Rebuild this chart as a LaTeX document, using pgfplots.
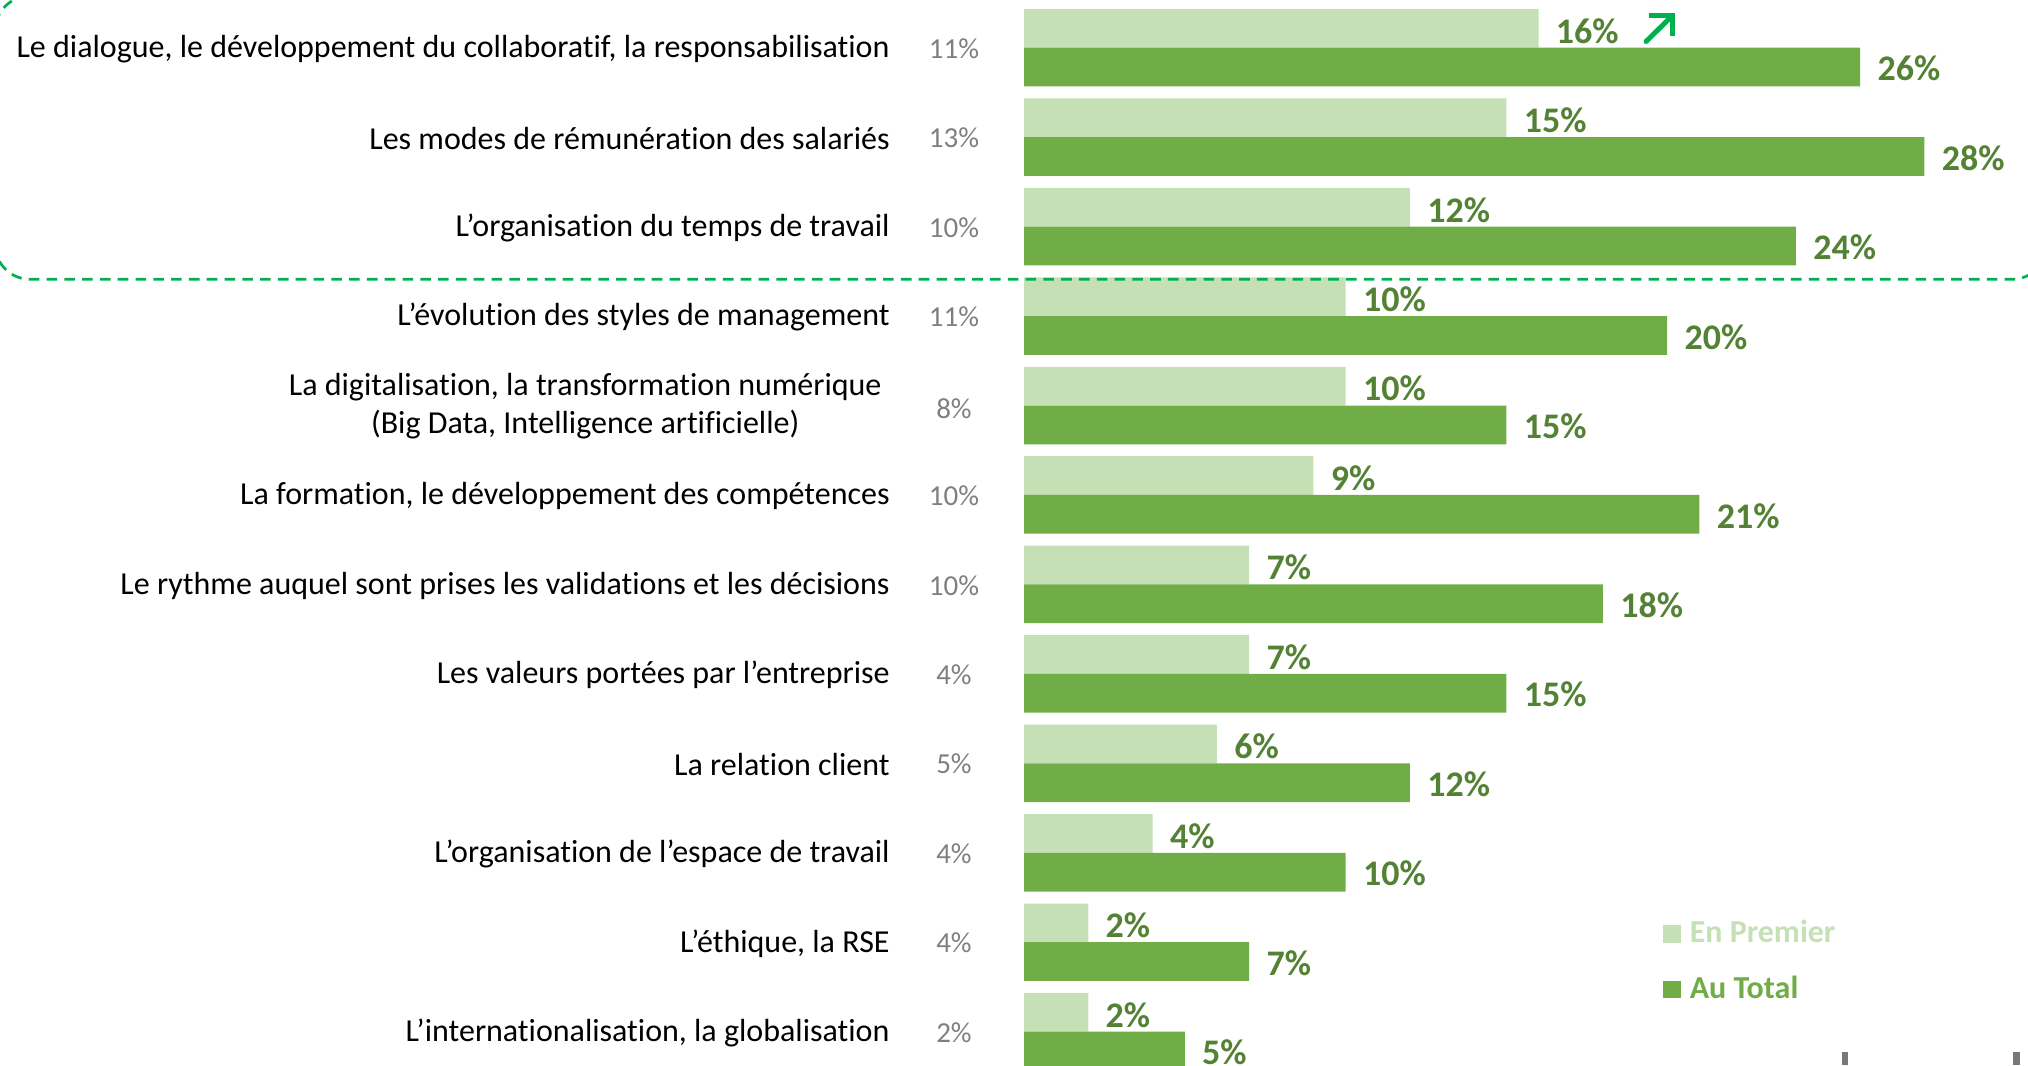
\documentclass[border=0pt]{standalone}
\usepackage{pgfplots}
\pgfplotsset{compat=1.18}
\usepackage{pgfplotstable}
\usepackage{fontspec}
\setmainfont{Carlito}[Ligatures=NoCommon]
\definecolor{lightg}{HTML}{C5E0B4}
\definecolor{darkg}{HTML}{70AD47}
\definecolor{labg}{HTML}{548235}
\definecolor{greyv}{HTML}{7F7F7F}
\definecolor{dashg}{HTML}{00B050}
\definecolor{tickg}{HTML}{77777C}

\pgfplotstableread{
idx premier total
0 16 26
1 15 28
2 12 24
3 10 20
4 10 15
5 9 21
6 7 18
7 7 15
8 6 12
9 4 10
10 2 7
11 2 5
}\datatable

\begin{document}
\begin{tikzpicture}
\useasboundingbox (0pt,0pt) rectangle (1014pt,532.5pt);
\clip (0pt,0pt) rectangle (1014pt,532.5pt);
\begin{axis}[
  at={(512pt,531pt)}, anchor=north west,
  x=16.08pt, y=44.725pt, y dir=reverse,
  xmin=0, xmax=31, ymin=-0.5, ymax=11.5,
  /pgf/number format/assume math mode=true,
  axis line style={draw=none},
  major tick length=0pt,
  tick style={draw=none},
  xtick=\empty,
  ytick={0,...,11},
  yticklabels={
    {Le dialogue, le développement du collaboratif, la responsabilisation},
    {Les modes de rémunération des salariés},
    {L’organisation du temps de travail},
    {L’évolution des styles de management},
    {\begin{tabular}{@{}c@{\hspace{4pt}}}La digitalisation, la transformation numérique\\(Big Data, Intelligence artificielle)\end{tabular}},
    {La formation, le développement des compétences},
    {Le rythme auquel sont prises les validations et les décisions},
    {Les valeurs portées par l’entreprise},
    {La relation client},
    {L’organisation de l’espace de travail},
    {L’éthique, la RSE},
    {L’internationalisation, la globalisation}
  },
  y tick label style={font=\fontsize{16}{19.4}\selectfont, anchor=east, inner sep=0pt, xshift=-67pt, yshift=-0.6pt, text=black},
  clip=false,
  legend style={at={(axis cs:19.87,9.807)}, anchor=north west, draw=none, fill=none,
    inner sep=0pt, outer sep=0pt, row sep=18.9pt, column sep=4.5pt,
    font=\fontsize{16}{19}\selectfont\bfseries,
    nodes={inner sep=0pt, text height=8.6pt, text depth=0pt}, cells={anchor=west}},
  legend image code/.code={\fill[#1] (0pt,-4.45pt) rectangle (8.9pt,4.45pt);},
]
\addplot[xbar, bar width=0.433, bar shift=-0.2165, fill=lightg, draw=none,
  point meta=x, nodes near coords={\pgfmathprintnumber{\pgfplotspointmeta}\%},
  every node near coord/.append style={font=\fontsize{18}{20}\selectfont\bfseries, text=labg, anchor=west, inner sep=0pt, xshift=8.5pt, yshift=8.4pt}]
  table[x=premier, y=idx] {\datatable};
\addlegendentry{\textcolor{lightg}{En Premier}}
\addplot[xbar, bar width=0.433, bar shift=0.2165, fill=darkg, draw=none,
  point meta=x, nodes near coords={\pgfmathprintnumber{\pgfplotspointmeta}\%},
  every node near coord/.append style={font=\fontsize{18}{20}\selectfont\bfseries, text=labg, anchor=west, inner sep=0pt, xshift=8.5pt, yshift=-10.4pt}]
  table[x=total, y=idx] {\datatable};
\addlegendentry{\textcolor{darkg}{Au Total}}
\addplot[draw=none, mark=none, forget plot, point meta=explicit,
  nodes near coords={\pgfmathprintnumber{\pgfplotspointmeta}\%},
  every node near coord/.append style={font=\fontsize{14.5}{17}\selectfont, text=greyv, anchor=center, inner sep=0pt}]
  coordinates {(-2.177,0.01)[11] (-2.177,1.01)[13] (-2.177,2.01)[10] (-2.177,3.01)[11] (-2.177,4.04)[8] (-2.177,5.01)[10]
    (-2.177,6.01)[10] (-2.177,7.01)[4] (-2.177,8.01)[5] (-2.177,9.01)[4] (-2.177,10.01)[4] (-2.177,11.01)[2]};
\end{axis}
\begin{scope}[x=0.5pt, y=-0.5pt, yshift=532.5pt]
\draw[dashg, line width=1.35pt, dash pattern=on 5.3pt off 3.6pt, rounded corners=17.5pt] (-5,-4) rectangle (2047,279.3);
\draw[dashg, line width=2.5pt, line cap=round] (1646,41.5) -- (1670,18);
\draw[dashg, line width=2.5pt, line join=miter] (1649,15.7) -- (1672.3,15.7) -- (1672.3,36);
\fill[tickg] (1842,1052) rectangle (1848,1065);
\fill[tickg] (2013,1052) rectangle (2020,1065);
\end{scope}
\end{tikzpicture}
\end{document}
